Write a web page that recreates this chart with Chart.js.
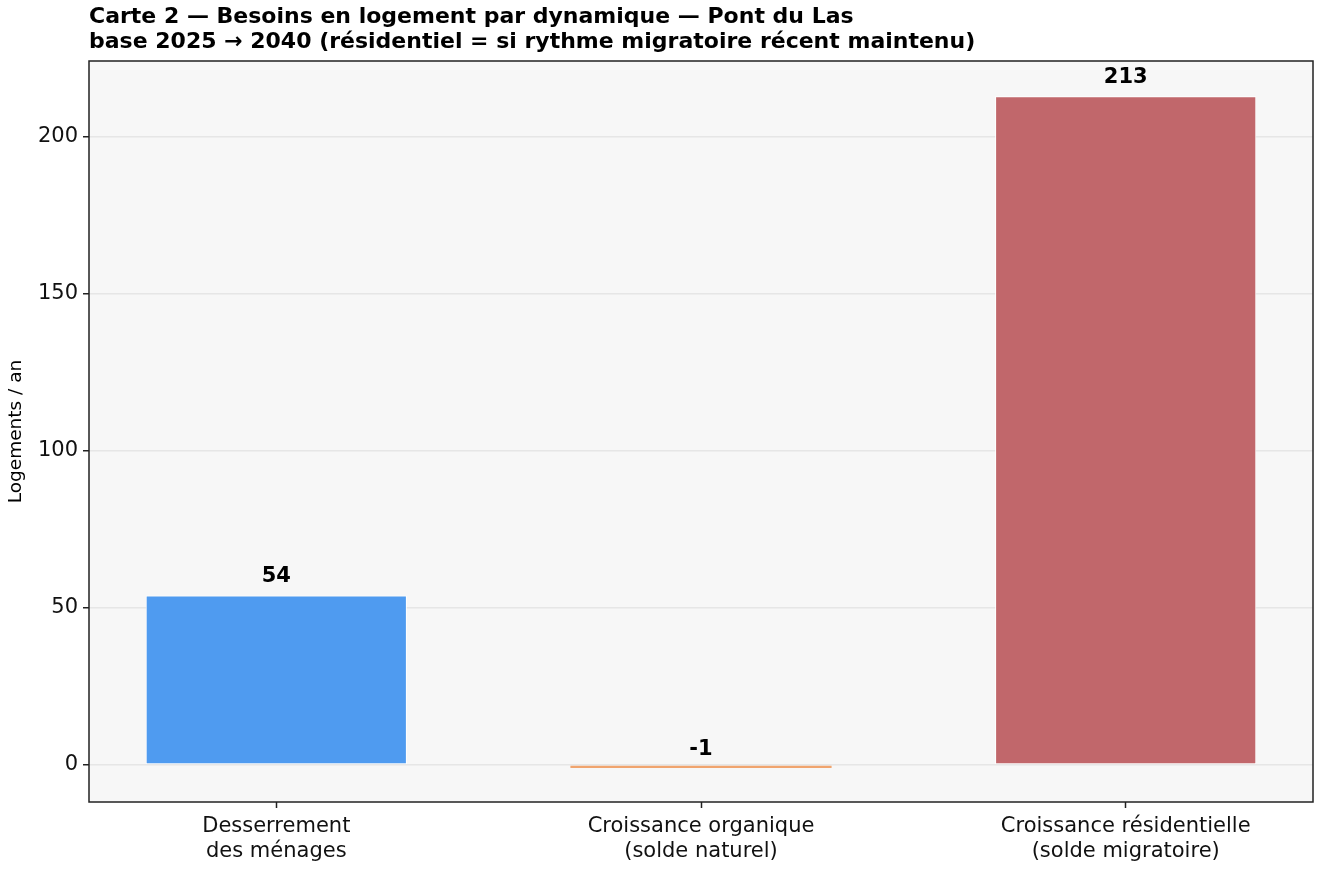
<!DOCTYPE html>
<html>
<head>
<meta charset="utf-8">
<script src="https://cdn.jsdelivr.net/npm/chart.js@4/dist/chart.umd.min.js"></script>
<style>
  html, body { margin: 0; padding: 0; background: #fff; }
  #wrap { width: 1320px; height: 870px; }
</style>
</head>
<body>
<div id="wrap"><canvas id="chart" width="1320" height="870"></canvas></div>
<script>
// Données
const categories = [
    ['Desserrement', 'des ménages'],
    ['Croissance organique', '(solde naturel)'],
    ['Croissance résidentielle', '(solde migratoire)']
];
const values = [54, -1, 213];
const barColors = ['#4f9bf0', '#f0a46e', '#c1676b'];
const yTicks = [0, 50, 100, 150, 200];
const titleLines = [
    'Carte 2 — Besoins en logement par dynamique — Pont du Las',
    'base 2025 → 2040 (résidentiel = si rythme migratoire récent maintenu)'
];
const yLabel = 'Logements / an';

const FONT = '"DejaVu Sans", sans-serif';

// fond gris + cadre + titre + étiquettes
const decoPlugin = {
    id: 'deco',
    beforeDraw(chart) {
        const a = chart.chartArea, ctx = chart.ctx;
        ctx.save();
        ctx.fillStyle = '#f7f7f7';
        ctx.fillRect(a.left, a.top, a.right - a.left, a.bottom - a.top);
        ctx.restore();
    },
    afterDraw(chart) {
        const a = chart.chartArea, ctx = chart.ctx;
        ctx.save();
        ctx.strokeStyle = '#222';
        ctx.lineWidth = 1.5;
        ctx.strokeRect(a.left, a.top, a.right - a.left, a.bottom - a.top);

        // titre
        ctx.fillStyle = '#000';
        ctx.font = 'bold 22px ' + FONT;
        ctx.textAlign = 'left';
        ctx.textBaseline = 'middle';
        ctx.fillText(titleLines[0], a.left, 17);
        ctx.fillText(titleLines[1], a.left, 42);

        // titre axe y
        ctx.font = '18.5px ' + FONT;
        ctx.translate(16, (a.top + a.bottom) / 2);
        ctx.rotate(-Math.PI / 2);
        ctx.textAlign = 'center';
        ctx.fillText(yLabel, 0, 0);
        ctx.restore();

        // valeurs au-dessus des barres
        const meta = chart.getDatasetMeta(0);
        const yScale = chart.scales.y;
        ctx.save();
        ctx.font = 'bold 21px ' + FONT;
        ctx.fillStyle = '#000';
        ctx.textAlign = 'center';
        ctx.textBaseline = 'middle';
        meta.data.forEach((bar, i) => {
            const y = yScale.getPixelForValue(values[i]) - 19;
            ctx.fillText(String(values[i]), bar.x, y);
        });
        ctx.restore();
    }
};

new Chart(document.getElementById('chart'), {
    type: 'bar',
    data: {
        datasets: [{
            data: values.map((v, i) => ({ x: i, y: v })),
            backgroundColor: barColors,
            borderColor: '#ffffff',
            borderWidth: [1, 0, 1],
            borderSkipped: false,
            categoryPercentage: 1,
            barPercentage: 0.615
        }]
    },
    options: {
        responsive: false,
        animation: false,
        layout: { padding: { top: 61, right: 7, left: 0, bottom: 0 } },
        plugins: {
            legend: { display: false },
            tooltip: { enabled: false }
        },
        scales: {
            x: {
                type: 'linear',
                offset: false,
                min: -0.441,
                max: 2.441,
                afterBuildTicks(scale) {
                    scale.ticks = categories.map((c, i) => ({ value: i }));
                },
                afterFit(scale) { scale.height = 68; },
                border: { display: false },
                grid: {
                    offset: false,
                    drawOnChartArea: false,
                    drawTicks: true,
                    tickLength: 6,
                    tickWidth: 1.5,
                    tickColor: '#222'
                },
                ticks: {
                    callback: (v) => categories[v],
                    color: '#111',
                    font: { family: FONT, size: 21 },
                    maxRotation: 0,
                    padding: 6
                }
            },
            y: {
                min: -11.8,
                max: 224.2,
                afterBuildTicks(scale) {
                    scale.ticks = yTicks.map(v => ({ value: v }));
                },
                afterFit(scale) { scale.width = 89; },
                border: { display: false },
                grid: {
                    color: '#e6e6e6',
                    lineWidth: 1.5,
                    drawTicks: true,
                    tickLength: 6,
                    tickWidth: 1.5,
                    tickColor: '#222'
                },
                ticks: {
                    color: '#111',
                    font: { family: FONT, size: 21 },
                    padding: 5
                }
            }
        }
    },
    plugins: [decoPlugin]
});
</script>
</body>
</html>
